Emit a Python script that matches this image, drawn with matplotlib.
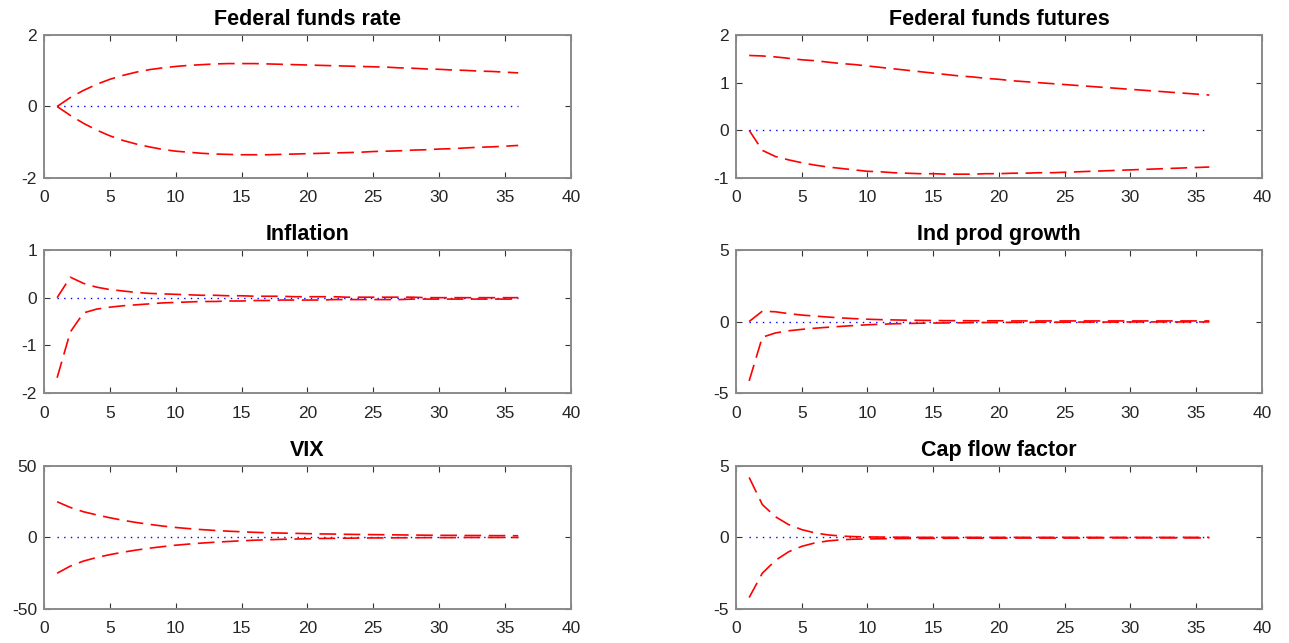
import matplotlib
matplotlib.use("Agg")
import matplotlib.pyplot as plt

plt.rcParams["font.family"] = ["Liberation Sans", "DejaVu Sans"]
plt.rcParams["axes.unicode_minus"] = False

# horizons 1..36
horizon = list(range(1, 37))
median = [0.0] * 36

titles = ["Federal funds rate", "Federal funds futures", "Inflation",
          "Ind prod growth", "VIX", "Cap flow factor"]

ffr_upper = [0.00, 0.25, 0.45, 0.62, 0.76, 0.87, 0.96, 1.03, 1.08, 1.12, 1.15, 1.17,
             1.19, 1.20, 1.20, 1.20, 1.19, 1.18, 1.17, 1.16, 1.15, 1.14, 1.13, 1.12,
             1.11, 1.10, 1.08, 1.07, 1.05, 1.04, 1.02, 1.01, 0.99, 0.98, 0.96, 0.94]
ffr_lower = [0.00, -0.25, -0.47, -0.66, -0.82, -0.95, -1.05, -1.13, -1.20, -1.25, -1.28, -1.31,
             -1.33, -1.34, -1.35, -1.35, -1.35, -1.34, -1.33, -1.32, -1.31, -1.30, -1.29, -1.28,
             -1.26, -1.25, -1.24, -1.22, -1.21, -1.19, -1.18, -1.16, -1.14, -1.13, -1.11, -1.09]

fff_upper = [1.57, 1.56, 1.54, 1.51, 1.48, 1.46, 1.43, 1.40, 1.38, 1.35, 1.32, 1.29,
             1.26, 1.23, 1.20, 1.17, 1.14, 1.12, 1.09, 1.07, 1.04, 1.02, 1.00, 0.98,
             0.96, 0.94, 0.92, 0.90, 0.88, 0.86, 0.84, 0.82, 0.80, 0.78, 0.76, 0.74]
fff_lower = [0.00, -0.42, -0.55, -0.62, -0.68, -0.73, -0.77, -0.80, -0.83, -0.86, -0.87, -0.89,
             -0.90, -0.91, -0.91, -0.92, -0.92, -0.92, -0.91, -0.91, -0.90, -0.90, -0.89, -0.89,
             -0.88, -0.87, -0.86, -0.85, -0.84, -0.83, -0.82, -0.81, -0.80, -0.79, -0.78, -0.77]

infl_upper = [0.00, 0.43, 0.30, 0.22, 0.17, 0.14, 0.11, 0.09, 0.08, 0.07, 0.06, 0.05,
              0.05, 0.04, 0.04, 0.03, 0.03, 0.03, 0.02, 0.02, 0.02, 0.02, 0.01, 0.01,
              0.01, 0.01, 0.01, 0.01, 0.00, 0.00, 0.00, 0.00, 0.00, 0.00, 0.00, 0.00]
infl_lower = [-1.68, -0.72, -0.32, -0.24, -0.20, -0.17, -0.15, -0.13, -0.11, -0.10, -0.09, -0.08,
              -0.08, -0.07, -0.07, -0.06, -0.06, -0.05, -0.05, -0.05, -0.05, -0.04, -0.04, -0.04,
              -0.04, -0.04, -0.04, -0.03, -0.03, -0.03, -0.03, -0.03, -0.03, -0.03, -0.03, -0.03]

ip_upper = [0.00, 0.72, 0.68, 0.55, 0.45, 0.38, 0.31, 0.25, 0.20, 0.16, 0.13, 0.11,
            0.09, 0.08, 0.07, 0.06, 0.06, 0.05, 0.05, 0.05, 0.04, 0.04, 0.04, 0.04,
            0.04, 0.04, 0.04, 0.04, 0.04, 0.04, 0.04, 0.04, 0.04, 0.04, 0.04, 0.04]
ip_lower = [-4.15, -1.10, -0.80, -0.65, -0.55, -0.47, -0.40, -0.34, -0.28, -0.23, -0.19, -0.16,
            -0.14, -0.12, -0.11, -0.10, -0.09, -0.08, -0.07, -0.07, -0.06, -0.06, -0.05, -0.05,
            -0.05, -0.04, -0.04, -0.04, -0.04, -0.03, -0.03, -0.03, -0.03, -0.03, -0.03, -0.03]

vix_upper = [25.0, 21.0, 18.0, 15.8, 13.8, 12.0, 10.5, 9.2, 8.0, 7.0, 6.2, 5.5,
             4.9, 4.4, 4.0, 3.6, 3.3, 3.1, 2.9, 2.7, 2.5, 2.4, 2.2, 2.1,
             2.0, 1.9, 1.8, 1.7, 1.6, 1.5, 1.5, 1.4, 1.4, 1.3, 1.3, 1.2]
vix_lower = [-25.0, -20.0, -16.5, -14.0, -12.0, -10.3, -8.8, -7.5, -6.4, -5.4, -4.6, -3.9,
             -3.3, -2.8, -2.3, -1.9, -1.6, -1.3, -1.1, -0.9, -0.7, -0.6, -0.5, -0.4,
             -0.3, -0.3, -0.2, -0.2, -0.1, -0.1, -0.1, 0.0, 0.0, 0.0, 0.0, 0.0]

cap_upper = [4.20, 2.30, 1.45, 0.90, 0.55, 0.32, 0.18, 0.10, 0.06, 0.04, 0.03, 0.02,
             0.02, 0.01, 0.01, 0.01, 0.01, 0.01, 0.01, 0.01, 0.01, 0.01, 0.01, 0.01,
             0.01, 0.01, 0.01, 0.01, 0.01, 0.01, 0.01, 0.01, 0.01, 0.01, 0.01, 0.01]
cap_lower = [-4.20, -2.50, -1.60, -1.00, -0.62, -0.38, -0.24, -0.16, -0.12, -0.10, -0.09, -0.08,
             -0.07, -0.07, -0.06, -0.06, -0.05, -0.05, -0.05, -0.05, -0.04, -0.04, -0.04, -0.04,
             -0.04, -0.04, -0.04, -0.03, -0.03, -0.03, -0.03, -0.03, -0.03, -0.03, -0.03, -0.03]

uppers = [ffr_upper, fff_upper, infl_upper, ip_upper, vix_upper, cap_upper]
lowers = [ffr_lower, fff_lower, infl_lower, ip_lower, vix_lower, cap_lower]
ylims = [(-2, 2), (-1, 2), (-2, 1), (-5, 5), (-50, 50), (-5, 5)]
yticks = [[-2, 0, 2], [-1, 0, 1, 2], [-2, -1, 0, 1], [-5, 0, 5], [-50, 0, 50], [-5, 0, 5]]

fig = plt.figure(figsize=(12.89, 6.43), dpi=100)

# axes boxes in figure fractions (left, bottom, width, height)
col_left = [0.0341, 0.571]
col_width = [0.4088, 0.408]
row_bottom = [0.7232, 0.3888, 0.0529]
row_height = 0.2224

edge = "#8a8a8a"
for i in range(6):
    r, c = divmod(i, 2)
    ax = fig.add_axes([col_left[c], row_bottom[r], col_width[c], row_height])
    ax.plot(horizon, median, color="blue", lw=1.0, dashes=(1, 3.8))
    ax.plot(horizon, uppers[i], color="red", lw=1.2, dashes=(10, 4.5))
    ax.plot(horizon, lowers[i], color="red", lw=1.2, dashes=(10, 4.5))
    ax.set_xlim(0, 40)
    ax.set_xticks(range(0, 41, 5))
    ax.set_ylim(*ylims[i])
    ax.set_yticks(yticks[i])
    ax.set_title(titles[i], fontsize=15.5, fontweight="bold", pad=7)
    ax.tick_params(direction="in", top=True, right=True, length=4, width=0.8,
                   color="#333333", labelsize=12.5, labelcolor="#262626")
    ax.tick_params(axis="x", pad=9)
    ax.tick_params(axis="y", pad=5)
    for s in ax.spines.values():
        s.set_color(edge)
        s.set_linewidth(1.4)

fig.savefig("out.png", dpi=100)
